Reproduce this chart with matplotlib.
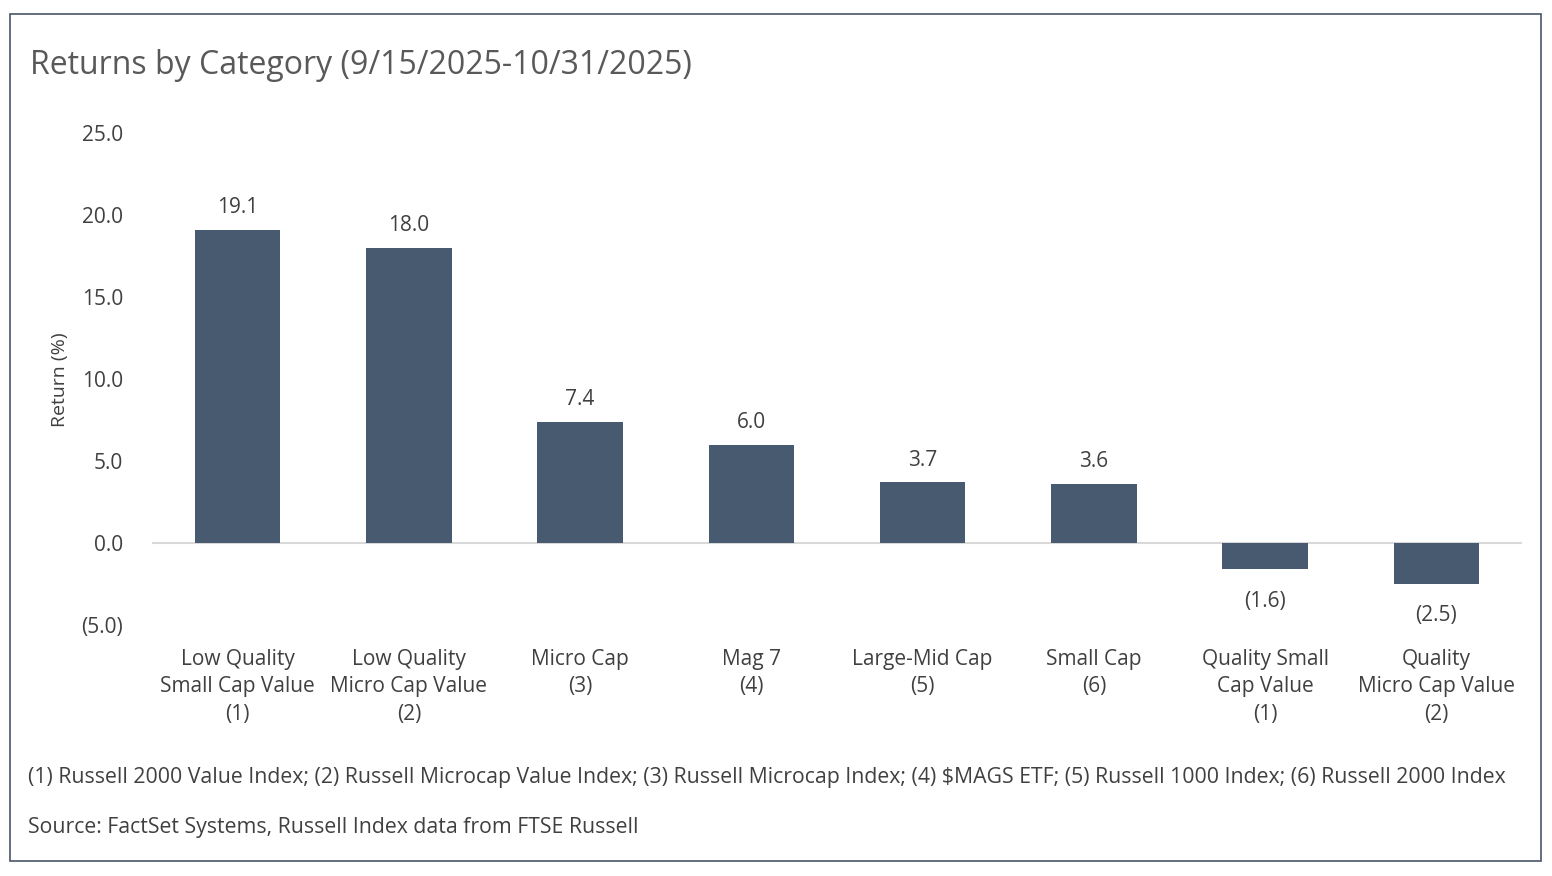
import matplotlib.pyplot as plt
from matplotlib.patches import Rectangle

# Data
categories = [
    "Low Quality\nSmall Cap Value\n(1)",
    "Low Quality\nMicro Cap Value\n(2)",
    "Micro Cap\n(3)",
    "Mag 7\n(4)",
    "Large-Mid Cap\n(5)",
    "Small Cap\n(6)",
    "Quality Small\nCap Value\n(1)",
    "Quality\nMicro Cap Value\n(2)",
]
returns = [19.1, 18.0, 7.4, 6.0, 3.7, 3.6, -1.6, -2.5]
yticks = [-5, 0, 5, 10, 15, 20, 25]

title = "Returns by Category (9/15/2025-10/31/2025)"
footnote = ("(1) Russell 2000 Value Index; (2) Russell Microcap Value Index; "
            "(3) Russell Microcap Index; (4) $MAGS ETF; (5) Russell 1000 Index; "
            "(6) Russell 2000 Index")
source = "Source: FactSet Systems, Russell Index data from FTSE Russell"

plt.rcParams['font.family'] = ['Open Sans', 'DejaVu Sans']

W, H = 1552, 876
fig = plt.figure(figsize=(W / 100, H / 100), dpi=100)

bar_color = '#475a70'
text_color = '#404040'
fs = 15

# frame around the chart
fig.patches.append(Rectangle((10 / W, 1 - 861 / H), 1531 / W, 847 / H,
                             transform=fig.transFigure, fill=False,
                             edgecolor='#4a5568', linewidth=1.2))

ax = fig.add_axes([152 / W, 1 - 625 / H, (1522 - 152) / W, (625 - 133) / H])

x = range(len(categories))
ax.bar(x, returns, width=0.5, color=bar_color, zorder=3)
ax.axhline(0, color='#d9d9d9', linewidth=1.5, zorder=2)

for xi, v in zip(x, returns):
    lab = f"{v:.1f}" if v >= 0 else f"({abs(v):.1f})"
    off = 22 if v >= 0 else -32
    ax.annotate(lab, (xi, v), xytext=(0, off * 0.72), textcoords='offset points',
                ha='center', va='center', fontsize=fs, color=text_color)

ax.set_xlim(-0.5, len(categories) - 0.5)
ax.set_ylim(-5, 25)
ax.set_yticks(yticks)
ax.set_yticklabels([f"{t:.1f}" if t >= 0 else f"({abs(t):.1f})" for t in yticks])
ax.set_xticks(list(x))
ax.set_xticklabels(categories, linespacing=1.42)

ax.tick_params(axis='y', length=0, pad=21, labelsize=fs, labelcolor=text_color)
ax.tick_params(axis='x', length=0, pad=17, labelsize=fs, labelcolor=text_color)
for s in ax.spines.values():
    s.set_visible(False)

fig.text(60 / W, 1 - 380 / H, "Return (%)", rotation=90, ha='center', va='center',
         fontsize=14, color=text_color)

fig.text(30 / W, 1 - 66 / H, title, ha='left', va='center', fontsize=23,
         color='#595959')
fig.text(28 / W, 1 - 778 / H, footnote, ha='left', va='center', fontsize=15.3,
         color=text_color)
fig.text(28 / W, 1 - 827 / H, source, ha='left', va='center', fontsize=15.3,
         color=text_color)

fig.savefig('out.png', dpi=100)
